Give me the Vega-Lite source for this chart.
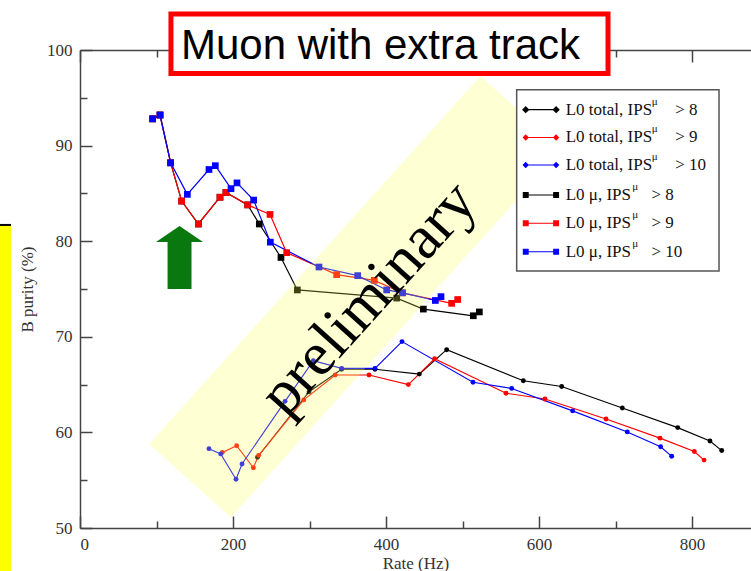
{
  "$schema": "https://vega.github.io/schema/vega-lite/v6.json",
  "width": 671,
  "height": 478,
  "autosize": "none",
  "padding": {"left": 80, "top": 50, "right": 0, "bottom": 43},
  "background": "white",
  "config": {
    "view": {"stroke": null},
    "axis": {
      "grid": false,
      "domainColor": "#444",
      "domainWidth": 1.5,
      "tickColor": "#444",
      "tickWidth": 1.5,
      "labelFont": "Liberation Serif",
      "labelFontSize": 17,
      "labelColor": "#333",
      "titleFont": "Liberation Serif",
      "titleFontSize": 17,
      "titleFontWeight": "normal",
      "titleColor": "#333"
    }
  },
  "data": {"values": [{}]},
  "datasets": {
    "mu": [
      {"s": "L0 mu, IPS>8", "i": 1, "x": 95.0, "y": 92.8},
      {"s": "L0 mu, IPS>8", "i": 2, "x": 104.6, "y": 93.2},
      {"s": "L0 mu, IPS>8", "i": 3, "x": 118.5, "y": 88.2},
      {"s": "L0 mu, IPS>8", "i": 4, "x": 132.9, "y": 84.2},
      {"s": "L0 mu, IPS>8", "i": 5, "x": 154.7, "y": 81.8},
      {"s": "L0 mu, IPS>8", "i": 6, "x": 183.0, "y": 84.6},
      {"s": "L0 mu, IPS>8", "i": 7, "x": 190.8, "y": 85.1},
      {"s": "L0 mu, IPS>8", "i": 8, "x": 219.2, "y": 83.8},
      {"s": "L0 mu, IPS>8", "i": 9, "x": 234.4, "y": 81.8},
      {"s": "L0 mu, IPS>8", "i": 10, "x": 262.7, "y": 78.3},
      {"s": "L0 mu, IPS>8", "i": 11, "x": 284.1, "y": 74.9},
      {"s": "L0 mu, IPS>8", "i": 12, "x": 414.0, "y": 74.05},
      {"s": "L0 mu, IPS>8", "i": 13, "x": 448.8, "y": 72.9},
      {"s": "L0 mu, IPS>8", "i": 14, "x": 514.1, "y": 72.2},
      {"s": "L0 mu, IPS>8", "i": 15, "x": 522.0, "y": 72.6},
      {"s": "L0 mu, IPS>9", "i": 1, "x": 95.0, "y": 92.8},
      {"s": "L0 mu, IPS>9", "i": 2, "x": 104.6, "y": 93.2},
      {"s": "L0 mu, IPS>9", "i": 3, "x": 118.5, "y": 88.2},
      {"s": "L0 mu, IPS>9", "i": 4, "x": 132.9, "y": 84.2},
      {"s": "L0 mu, IPS>9", "i": 5, "x": 154.7, "y": 81.8},
      {"s": "L0 mu, IPS>9", "i": 6, "x": 183.0, "y": 84.6},
      {"s": "L0 mu, IPS>9", "i": 7, "x": 190.8, "y": 85.1},
      {"s": "L0 mu, IPS>9", "i": 8, "x": 219.2, "y": 83.8},
      {"s": "L0 mu, IPS>9", "i": 9, "x": 248.4, "y": 82.8},
      {"s": "L0 mu, IPS>9", "i": 10, "x": 270.2, "y": 78.8},
      {"s": "L0 mu, IPS>9", "i": 11, "x": 335.5, "y": 76.5},
      {"s": "L0 mu, IPS>9", "i": 12, "x": 384.7, "y": 75.9},
      {"s": "L0 mu, IPS>9", "i": 13, "x": 421.3, "y": 74.6},
      {"s": "L0 mu, IPS>9", "i": 14, "x": 485.8, "y": 73.5},
      {"s": "L0 mu, IPS>9", "i": 15, "x": 493.7, "y": 73.9},
      {"s": "L0 mu, IPS>10", "i": 1, "x": 95.0, "y": 92.8},
      {"s": "L0 mu, IPS>10", "i": 2, "x": 104.6, "y": 93.2},
      {"s": "L0 mu, IPS>10", "i": 3, "x": 118.5, "y": 88.2},
      {"s": "L0 mu, IPS>10", "i": 4, "x": 140.3, "y": 84.9},
      {"s": "L0 mu, IPS>10", "i": 5, "x": 168.6, "y": 87.5},
      {"s": "L0 mu, IPS>10", "i": 6, "x": 176.9, "y": 87.9},
      {"s": "L0 mu, IPS>10", "i": 7, "x": 197.4, "y": 85.5},
      {"s": "L0 mu, IPS>10", "i": 8, "x": 205.2, "y": 86.1},
      {"s": "L0 mu, IPS>10", "i": 9, "x": 227.0, "y": 84.3},
      {"s": "L0 mu, IPS>10", "i": 10, "x": 248.8, "y": 79.9},
      {"s": "L0 mu, IPS>10", "i": 11, "x": 312.4, "y": 77.3},
      {"s": "L0 mu, IPS>10", "i": 12, "x": 363.0, "y": 76.4},
      {"s": "L0 mu, IPS>10", "i": 13, "x": 400.9, "y": 74.9},
      {"s": "L0 mu, IPS>10", "i": 14, "x": 421.7, "y": 74.6},
      {"s": "L0 mu, IPS>10", "i": 15, "x": 464.5, "y": 73.8},
      {"s": "L0 mu, IPS>10", "i": 16, "x": 471.9, "y": 74.2}
    ],
    "tot": [
      {"s": "L0 total, IPS>8", "i": 1, "x": 232.0, "y": 57.4},
      {"s": "L0 total, IPS>8", "i": 2, "x": 299.5, "y": 64.25},
      {"s": "L0 total, IPS>8", "i": 3, "x": 342.0, "y": 66.6},
      {"s": "L0 total, IPS>8", "i": 4, "x": 385.6, "y": 66.6},
      {"s": "L0 total, IPS>8", "i": 5, "x": 443.6, "y": 66.1},
      {"s": "L0 total, IPS>8", "i": 6, "x": 479.3, "y": 68.65},
      {"s": "L0 total, IPS>8", "i": 7, "x": 579.5, "y": 65.4},
      {"s": "L0 total, IPS>8", "i": 8, "x": 629.6, "y": 64.8},
      {"s": "L0 total, IPS>8", "i": 9, "x": 708.9, "y": 62.55},
      {"s": "L0 total, IPS>8", "i": 10, "x": 781.3, "y": 60.5},
      {"s": "L0 total, IPS>8", "i": 11, "x": 823.5, "y": 59.1},
      {"s": "L0 total, IPS>8", "i": 12, "x": 838.8, "y": 58.1},
      {"s": "L0 total, IPS>9", "i": 1, "x": 186.0, "y": 57.9},
      {"s": "L0 total, IPS>9", "i": 2, "x": 204.8, "y": 58.6},
      {"s": "L0 total, IPS>9", "i": 3, "x": 226.6, "y": 56.3},
      {"s": "L0 total, IPS>9", "i": 4, "x": 233.5, "y": 57.6},
      {"s": "L0 total, IPS>9", "i": 5, "x": 292.5, "y": 63.4},
      {"s": "L0 total, IPS>9", "i": 6, "x": 333.6, "y": 66.0},
      {"s": "L0 total, IPS>9", "i": 7, "x": 377.8, "y": 66.0},
      {"s": "L0 total, IPS>9", "i": 8, "x": 429.2, "y": 65.0},
      {"s": "L0 total, IPS>9", "i": 9, "x": 463.5, "y": 67.7},
      {"s": "L0 total, IPS>9", "i": 10, "x": 556.9, "y": 64.1},
      {"s": "L0 total, IPS>9", "i": 11, "x": 607.8, "y": 63.5},
      {"s": "L0 total, IPS>9", "i": 12, "x": 687.6, "y": 61.4},
      {"s": "L0 total, IPS>9", "i": 13, "x": 758.2, "y": 59.4},
      {"s": "L0 total, IPS>9", "i": 14, "x": 803.0, "y": 58.0},
      {"s": "L0 total, IPS>9", "i": 15, "x": 815.7, "y": 57.1},
      {"s": "L0 total, IPS>10", "i": 1, "x": 168.6, "y": 58.3},
      {"s": "L0 total, IPS>10", "i": 2, "x": 183.9, "y": 57.75},
      {"s": "L0 total, IPS>10", "i": 3, "x": 203.9, "y": 55.1},
      {"s": "L0 total, IPS>10", "i": 4, "x": 211.8, "y": 56.7},
      {"s": "L0 total, IPS>10", "i": 5, "x": 268.0, "y": 63.25},
      {"s": "L0 total, IPS>10", "i": 6, "x": 305.0, "y": 67.5},
      {"s": "L0 total, IPS>10", "i": 7, "x": 342.0, "y": 66.7},
      {"s": "L0 total, IPS>10", "i": 8, "x": 385.6, "y": 66.7},
      {"s": "L0 total, IPS>10", "i": 9, "x": 420.9, "y": 69.5},
      {"s": "L0 total, IPS>10", "i": 10, "x": 513.7, "y": 65.25},
      {"s": "L0 total, IPS>10", "i": 11, "x": 564.3, "y": 64.6},
      {"s": "L0 total, IPS>10", "i": 12, "x": 644.0, "y": 62.25},
      {"s": "L0 total, IPS>10", "i": 13, "x": 715.4, "y": 60.05},
      {"s": "L0 total, IPS>10", "i": 14, "x": 759.0, "y": 58.5},
      {"s": "L0 total, IPS>10", "i": 15, "x": 773.4, "y": 57.5}
    ]
  },
  "layer": [
    {
      "data": {"name": "mu"},
      "mark": {"type": "line", "strokeWidth": 1.2},
      "encoding": {
        "x": {"field": "x", "type": "quantitative", "scale": {"domain": [0, 877.1], "nice": false, "zero": false},
              "axis": {"orient": "bottom", "values": [0, 200, 400, 600, 800], "tickSize": -12, "labelPadding": 20, "title": "Rate (Hz)", "titlePadding": 3}},
        "y": {"field": "y", "type": "quantitative", "scale": {"domain": [50, 100], "nice": false, "zero": false},
              "axis": {"orient": "left", "values": [50, 60, 70, 80, 90, 100], "tickSize": -12, "labelPadding": 20, "title": "B purity (%)", "titlePadding": 10}},
        "color": {"field": "s", "type": "nominal", "legend": null,
                  "scale": {"domain": ["L0 total, IPS>8", "L0 total, IPS>9", "L0 total, IPS>10", "L0 mu, IPS>8", "L0 mu, IPS>9", "L0 mu, IPS>10"],
                            "range": ["#000000", "#ff0000", "#0000ff", "#000000", "#ff0000", "#0000ff"]}},
        "order": {"field": "i", "type": "quantitative"}
      }
    },
    {
      "data": {"name": "mu"},
      "mark": {"type": "point", "shape": "square", "filled": true, "size": 45, "opacity": 1},
      "encoding": {
        "x": {"field": "x", "type": "quantitative", "axis": {"orient": "bottom", "values": [100, 300, 500, 700], "tickSize": -7, "labels": false, "domain": false, "title": null}},
        "y": {"field": "y", "type": "quantitative", "axis": {"orient": "left", "values": [55, 65, 75, 85, 95], "tickSize": -7, "labels": false, "domain": false, "title": null}},
        "color": {"field": "s", "type": "nominal", "legend": null}
      }
    },
    {
      "data": {"name": "tot"},
      "mark": {"type": "line", "strokeWidth": 1.1},
      "encoding": {
        "x": {"field": "x", "type": "quantitative", "axis": {"orient": "top", "values": [0, 200, 400, 600, 800], "tickSize": -12, "labels": false, "title": null}},
        "y": {"field": "y", "type": "quantitative", "axis": null},
        "color": {"field": "s", "type": "nominal", "legend": null},
        "order": {"field": "i", "type": "quantitative"}
      }
    },
    {
      "data": {"name": "tot"},
      "mark": {"type": "point", "shape": "circle", "filled": true, "size": 24, "opacity": 1},
      "encoding": {
        "x": {"field": "x", "type": "quantitative", "axis": {"orient": "top", "values": [100, 300, 500, 700], "tickSize": -7, "labels": false, "domain": false, "title": null}},
        "y": {"field": "y", "type": "quantitative", "axis": null},
        "color": {"field": "s", "type": "nominal", "legend": null}
      }
    },
    {
      "mark": {"type": "point", "shape": "M-1,-0.222L1,-0.222L1,0.222L-1,0.222Z", "size": 245025, "angle": -48, "filled": true, "color": "#ffff55", "opacity": 0.25},
      "encoding": {
        "x": {"datum": 360.4, "type": "quantitative", "axis": null},
        "y": {"datum": 74.19, "type": "quantitative", "axis": null}
      }
    },
    {
      "mark": {"type": "text", "text": "preliminary", "font": "Liberation Serif", "fontSize": 62, "angle": -48, "align": "center", "baseline": "middle", "color": "#000"},
      "encoding": {
        "x": {"datum": 376.9, "type": "quantitative", "axis": null},
        "y": {"datum": 74.03, "type": "quantitative", "axis": null}
      }
    },
    {
      "mark": {"type": "rect", "fill": "#ffffff", "stroke": "#ff0000", "strokeWidth": 5},
      "encoding": {
        "x": {"datum": 118.9, "type": "quantitative", "axis": null},
        "x2": {"datum": 690.2},
        "y": {"datum": 103.77, "type": "quantitative", "axis": null},
        "y2": {"datum": 97.54}
      }
    },
    {
      "mark": {"type": "text", "text": "Muon with extra track", "font": "Liberation Sans", "fontSize": 42, "align": "center", "baseline": "middle", "color": "#000"},
      "encoding": {
        "x": {"datum": 392.8, "type": "quantitative", "axis": null},
        "y": {"datum": 100.43, "type": "quantitative", "axis": null}
      }
    },
    {
      "mark": {"type": "point", "shape": "M0,-1L0.746,-0.49L0.38,-0.49L0.38,1L-0.38,1L-0.38,-0.49L-0.746,-0.49Z", "size": 3969, "filled": true, "color": "#08780f", "opacity": 1},
      "encoding": {
        "x": {"datum": 130.1, "type": "quantitative", "axis": null},
        "y": {"datum": 78.3, "type": "quantitative", "axis": null}
      }
    },
    {
      "mark": {"type": "rect", "fill": "#ffff00"},
      "encoding": {
        "x": {"datum": -104.6, "type": "quantitative", "axis": null},
        "x2": {"datum": -90.2},
        "y": {"datum": 81.7, "type": "quantitative", "axis": null},
        "y2": {"datum": 45}
      }
    },
    {
      "mark": {"type": "rule", "color": "#000", "strokeWidth": 2},
      "encoding": {
        "x": {"datum": -104.6, "type": "quantitative", "axis": null},
        "x2": {"datum": -90.2},
        "y": {"datum": 81.7, "type": "quantitative", "axis": null}
      }
    },
    {
      "mark": {"type": "rect", "fill": "#ffffff", "stroke": "#555555", "strokeWidth": 1.5},
      "encoding": {
        "x": {"datum": 570.8, "type": "quantitative", "axis": null},
        "x2": {"datum": 835.3},
        "y": {"datum": 95.85, "type": "quantitative", "axis": null},
        "y2": {"datum": 76.88}
      }
    },
    {"mark": {"type": "point", "shape": "M-0.95,0L0.95,0M-0.95,-0.18L-0.77,0L-0.95,0.18L-1.13,0ZM0.95,-0.18L1.13,0L0.95,0.18L0.77,0Z", "size": 1024, "filled": true, "fill": "#000000", "stroke": "#000000", "strokeWidth": 1.1, "opacity": 1},
     "encoding": {"x": {"datum": 602.5, "type": "quantitative", "axis": null}, "y": {"datum": 93.76, "type": "quantitative", "axis": null}}},
    {"mark": {"type": "point", "shape": "M-0.95,0L0.95,0M-0.95,-0.15L-0.8,0L-0.95,0.15L-1.1,0ZM0.95,-0.15L1.1,0L0.95,0.15L0.8,0Z", "size": 1024, "filled": true, "fill": "#ff0000", "stroke": "#ff0000", "strokeWidth": 1.1, "opacity": 1},
     "encoding": {"x": {"datum": 602.5, "type": "quantitative", "axis": null}, "y": {"datum": 90.85, "type": "quantitative", "axis": null}}},
    {"mark": {"type": "point", "shape": "M-0.95,0L0.95,0M-0.95,-0.15L-0.8,0L-0.95,0.15L-1.1,0ZM0.95,-0.15L1.1,0L0.95,0.15L0.8,0Z", "size": 1024, "filled": true, "fill": "#0000ff", "stroke": "#0000ff", "strokeWidth": 1.1, "opacity": 1},
     "encoding": {"x": {"datum": 602.5, "type": "quantitative", "axis": null}, "y": {"datum": 87.97, "type": "quantitative", "axis": null}}},
    {"mark": {"type": "point", "shape": "M-0.95,0L0.95,0M-1.1,-0.15L-0.8,-0.15L-0.8,0.15L-1.1,0.15ZM0.8,-0.15L1.1,-0.15L1.1,0.15L0.8,0.15Z", "size": 1024, "filled": true, "fill": "#000000", "stroke": "#000000", "strokeWidth": 1.1, "opacity": 1},
     "encoding": {"x": {"datum": 602.5, "type": "quantitative", "axis": null}, "y": {"datum": 84.83, "type": "quantitative", "axis": null}}},
    {"mark": {"type": "point", "shape": "M-0.95,0L0.95,0M-1.1,-0.15L-0.8,-0.15L-0.8,0.15L-1.1,0.15ZM0.8,-0.15L1.1,-0.15L1.1,0.15L0.8,0.15Z", "size": 1024, "filled": true, "fill": "#ff0000", "stroke": "#ff0000", "strokeWidth": 1.1, "opacity": 1},
     "encoding": {"x": {"datum": 602.5, "type": "quantitative", "axis": null}, "y": {"datum": 81.87, "type": "quantitative", "axis": null}}},
    {"mark": {"type": "point", "shape": "M-0.95,0L0.95,0M-1.1,-0.15L-0.8,-0.15L-0.8,0.15L-1.1,0.15ZM0.8,-0.15L1.1,-0.15L1.1,0.15L0.8,0.15Z", "size": 1024, "filled": true, "fill": "#0000ff", "stroke": "#0000ff", "strokeWidth": 1.1, "opacity": 1},
     "encoding": {"x": {"datum": 602.5, "type": "quantitative", "axis": null}, "y": {"datum": 78.90, "type": "quantitative", "axis": null}}},
    {"mark": {"type": "text", "text": "L0 total, IPS", "font": "Liberation Serif", "fontSize": 17, "align": "left", "baseline": "middle", "color": "#111"},
     "encoding": {"x": {"datum": 634.9, "type": "quantitative", "axis": null}, "y": {"datum": 93.76, "type": "quantitative", "axis": null}}},
    {"mark": {"type": "text", "text": "L0 total, IPS", "font": "Liberation Serif", "fontSize": 17, "align": "left", "baseline": "middle", "color": "#111"},
     "encoding": {"x": {"datum": 634.9, "type": "quantitative", "axis": null}, "y": {"datum": 90.85, "type": "quantitative", "axis": null}}},
    {"mark": {"type": "text", "text": "L0 total, IPS", "font": "Liberation Serif", "fontSize": 17, "align": "left", "baseline": "middle", "color": "#111"},
     "encoding": {"x": {"datum": 634.9, "type": "quantitative", "axis": null}, "y": {"datum": 87.97, "type": "quantitative", "axis": null}}},
    {"mark": {"type": "text", "text": "L0 μ, IPS", "font": "Liberation Serif", "fontSize": 17, "align": "left", "baseline": "middle", "color": "#111"},
     "encoding": {"x": {"datum": 634.9, "type": "quantitative", "axis": null}, "y": {"datum": 84.83, "type": "quantitative", "axis": null}}},
    {"mark": {"type": "text", "text": "L0 μ, IPS", "font": "Liberation Serif", "fontSize": 17, "align": "left", "baseline": "middle", "color": "#111"},
     "encoding": {"x": {"datum": 634.9, "type": "quantitative", "axis": null}, "y": {"datum": 81.87, "type": "quantitative", "axis": null}}},
    {"mark": {"type": "text", "text": "L0 μ, IPS", "font": "Liberation Serif", "fontSize": 17, "align": "left", "baseline": "middle", "color": "#111"},
     "encoding": {"x": {"datum": 634.9, "type": "quantitative", "axis": null}, "y": {"datum": 78.90, "type": "quantitative", "axis": null}}},
    {"mark": {"type": "text", "text": "μ", "font": "Liberation Serif", "fontSize": 11, "align": "left", "baseline": "middle", "dy": -8, "color": "#111"},
     "encoding": {"x": {"datum": 747.5, "type": "quantitative", "axis": null}, "y": {"datum": 93.76, "type": "quantitative", "axis": null}}},
    {"mark": {"type": "text", "text": "μ", "font": "Liberation Serif", "fontSize": 11, "align": "left", "baseline": "middle", "dy": -8, "color": "#111"},
     "encoding": {"x": {"datum": 747.5, "type": "quantitative", "axis": null}, "y": {"datum": 90.85, "type": "quantitative", "axis": null}}},
    {"mark": {"type": "text", "text": "μ", "font": "Liberation Serif", "fontSize": 11, "align": "left", "baseline": "middle", "dy": -8, "color": "#111"},
     "encoding": {"x": {"datum": 747.5, "type": "quantitative", "axis": null}, "y": {"datum": 87.97, "type": "quantitative", "axis": null}}},
    {"mark": {"type": "text", "text": "μ", "font": "Liberation Serif", "fontSize": 11, "align": "left", "baseline": "middle", "dy": -8, "color": "#111"},
     "encoding": {"x": {"datum": 722.0, "type": "quantitative", "axis": null}, "y": {"datum": 84.83, "type": "quantitative", "axis": null}}},
    {"mark": {"type": "text", "text": "μ", "font": "Liberation Serif", "fontSize": 11, "align": "left", "baseline": "middle", "dy": -8, "color": "#111"},
     "encoding": {"x": {"datum": 722.0, "type": "quantitative", "axis": null}, "y": {"datum": 81.87, "type": "quantitative", "axis": null}}},
    {"mark": {"type": "text", "text": "μ", "font": "Liberation Serif", "fontSize": 11, "align": "left", "baseline": "middle", "dy": -8, "color": "#111"},
     "encoding": {"x": {"datum": 722.0, "type": "quantitative", "axis": null}, "y": {"datum": 78.90, "type": "quantitative", "axis": null}}},
    {"mark": {"type": "text", "text": "> 8", "font": "Liberation Serif", "fontSize": 17, "align": "left", "baseline": "middle", "color": "#111"},
     "encoding": {"x": {"datum": 778.0, "type": "quantitative", "axis": null}, "y": {"datum": 93.76, "type": "quantitative", "axis": null}}},
    {"mark": {"type": "text", "text": "> 9", "font": "Liberation Serif", "fontSize": 17, "align": "left", "baseline": "middle", "color": "#111"},
     "encoding": {"x": {"datum": 778.0, "type": "quantitative", "axis": null}, "y": {"datum": 90.85, "type": "quantitative", "axis": null}}},
    {"mark": {"type": "text", "text": "> 10", "font": "Liberation Serif", "fontSize": 17, "align": "left", "baseline": "middle", "color": "#111"},
     "encoding": {"x": {"datum": 778.0, "type": "quantitative", "axis": null}, "y": {"datum": 87.97, "type": "quantitative", "axis": null}}},
    {"mark": {"type": "text", "text": "> 8", "font": "Liberation Serif", "fontSize": 17, "align": "left", "baseline": "middle", "color": "#111"},
     "encoding": {"x": {"datum": 747.0, "type": "quantitative", "axis": null}, "y": {"datum": 84.83, "type": "quantitative", "axis": null}}},
    {"mark": {"type": "text", "text": "> 9", "font": "Liberation Serif", "fontSize": 17, "align": "left", "baseline": "middle", "color": "#111"},
     "encoding": {"x": {"datum": 747.0, "type": "quantitative", "axis": null}, "y": {"datum": 81.87, "type": "quantitative", "axis": null}}},
    {"mark": {"type": "text", "text": "> 10", "font": "Liberation Serif", "fontSize": 17, "align": "left", "baseline": "middle", "color": "#111"},
     "encoding": {"x": {"datum": 747.0, "type": "quantitative", "axis": null}, "y": {"datum": 78.90, "type": "quantitative", "axis": null}}}
  ],
  "resolve": {"axis": {"x": "independent", "y": "independent"}}
}
